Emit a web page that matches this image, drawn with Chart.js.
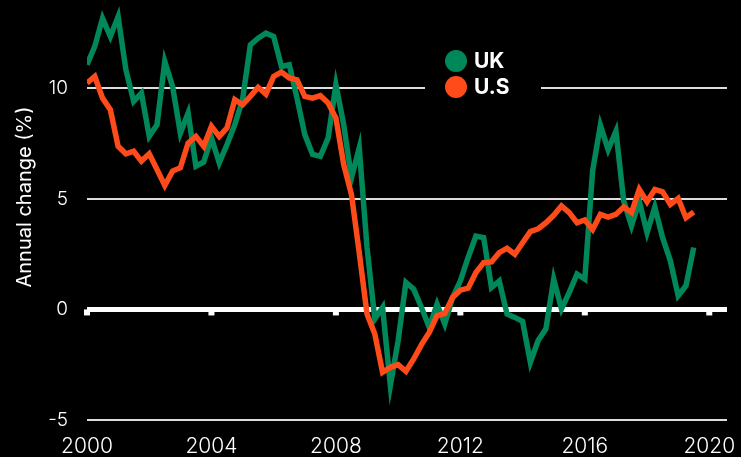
<!DOCTYPE html>
<html lang="en">
<head>
  <meta charset="UTF-8">
  <title>Annual change UK vs U.S</title>
  <script src="https://cdn.jsdelivr.net/npm/chart.js"></script>
  <style>
    * { margin: 0; padding: 0; box-sizing: border-box; }
    body { background: #000; width: 741px; height: 457px; overflow: hidden; }
    canvas { display: block; }
  </style>
</head>
<body>
  <canvas id="chart" width="741" height="457"></canvas>

  <script>
    // quarterly values, starting 2000 Q1
    const startYear = 2000;
    const ukValues = [
      11.07, 11.9, 13.17, 12.35, 13.25, 10.84, 9.41, 9.79, 7.83, 8.36, 11.22, 10.09,
      7.98, 8.89, 6.48, 6.67, 7.76, 6.63, 7.46, 8.36, 9.49, 11.97, 12.27, 12.5,
      12.35, 10.99, 11.07, 9.56, 7.91, 7.01, 6.93, 7.76, 10.17, 8.36, 5.95, 7.31,
      2.8, -0.43, 0.09, -3.44, -1.41, 1.22, 0.92, 0.09, -0.81, 0.24, -0.66, 0.54,
      1.29, 2.35, 3.32, 3.25, 0.99, 1.29, -0.21, -0.36, -0.54, -2.39, -1.41, -0.88,
      1.37, 0.02, 0.77, 1.6, 1.37, 6.26, 8.33, 7.23, 8.06, 4.9, 3.78, 4.9,
      3.47, 4.63, 3.25, 2.2, 0.62, 1.07, 2.8
    ];
    const usValues = [
      10.24, 10.54, 9.56, 9.04, 7.38, 7.04, 7.16, 6.71, 7.04, 6.33, 5.61, 6.26,
      6.41, 7.53, 7.83, 7.38, 8.29, 7.83, 8.21, 9.49, 9.26, 9.64, 10.05, 9.74,
      10.54, 10.74, 10.47, 10.39, 9.64, 9.56, 9.67, 9.34, 8.66, 6.56, 5.2, 2.57,
      -0.21, -1.11, -2.84, -2.62, -2.5, -2.8, -2.24, -1.59, -1.04, -0.28, -0.18, 0.54,
      0.87, 0.96, 1.67, 2.12, 2.15, 2.57, 2.77, 2.5, 3.02, 3.52, 3.65, 3.92,
      4.26, 4.68, 4.38, 3.92, 4.05, 3.62, 4.3, 4.18, 4.3, 4.63, 4.38, 5.43,
      4.87, 5.43, 5.32, 4.75, 5.02, 4.15, 4.41
    ];
    const xTicks = [2000, 2004, 2008, 2012, 2016, 2020];
    const yTicks = [-5, 0, 5, 10];
    const seriesNames = ['UK', 'U.S'];

    const green = '#00885A';
    const orange = '#FF4B19';
    const white = '#ffffff';
    const font = 'Inter, "Noto Sans", sans-serif';

    const toPoints = vals => vals.map((v, i) => ({ x: startYear + i / 4, y: v }));

    // small white squares hanging under the zero line at each year tick
    const zeroTicks = {
      id: 'zeroTicks',
      beforeDatasetsDraw(chart) {
        const { ctx, scales: { x, y } } = chart;
        const y0 = y.getPixelForValue(0);
        ctx.save();
        ctx.fillStyle = white;
        xTicks.forEach(v => {
          const px = x.getPixelForValue(v);
          ctx.fillRect(px - 3, y0, 6, 6);
        });
        ctx.restore();
      }
    };

    const sideTitle = {
      id: 'sideTitle',
      afterDraw(chart) {
        const { ctx } = chart;
        ctx.save();
        ctx.translate(25, 197);
        ctx.rotate(-Math.PI / 2);
        ctx.fillStyle = white;
        ctx.font = '20px ' + font;
        ctx.textAlign = 'center';
        ctx.textBaseline = 'middle';
        ctx.fillText('Annual change (%)', 0, 0);
        ctx.restore();
      }
    };

    const dotLegend = {
      id: 'dotLegend',
      afterDraw(chart) {
        const { ctx } = chart;
        const colors = [green, orange];
        const rows = [61, 87];
        ctx.save();
        ctx.fillStyle = '#000';
        ctx.fillRect(425, 45, 116, 56);
        ctx.font = 'bold 21px ' + font;
        ctx.textBaseline = 'middle';
        ctx.textAlign = 'left';
        seriesNames.forEach((name, i) => {
          ctx.fillStyle = colors[i];
          ctx.beginPath();
          ctx.arc(456, rows[i], 11, 0, Math.PI * 2);
          ctx.fill();
          ctx.fillStyle = white;
          ctx.fillText(name, 474, rows[i] + 1);
        });
        ctx.restore();
      }
    };

    const noPad = s => {
      s.paddingTop = 0;
      s.paddingBottom = 0;
      s.paddingLeft = 0;
      s.paddingRight = 0;
    };

    const chart = new Chart(document.getElementById('chart'), {
      type: 'line',
      data: {
        datasets: [
          {
            label: seriesNames[0],
            data: toPoints(ukValues),
            borderColor: green,
            borderWidth: 5.5,
            pointRadius: 0,
            tension: 0,
            order: 1
          },
          {
            label: seriesNames[1],
            data: toPoints(usValues),
            borderColor: orange,
            borderWidth: 5.5,
            pointRadius: 0,
            tension: 0,
            order: 0
          }
        ]
      },
      options: {
        responsive: false,
        animation: false,
        layout: { padding: { top: 0, right: 14, left: 0, bottom: 0 } },
        plugins: {
          legend: { display: false },
          title: { display: false },
          tooltip: { enabled: false }
        },
        scales: {
          x: {
            type: 'linear',
            min: 2000,
            max: 2020.57,
            afterBuildTicks: s => { s.ticks = xTicks.map(v => ({ value: v })); },
            afterFit: s => { s.height = 26; noPad(s); },
            grid: { display: false, drawTicks: false },
            border: { display: false },
            ticks: {
              color: white,
              font: { family: font, size: 21, weight: 300 },
              padding: 3,
              maxRotation: 0,
              callback: v => String(v)
            }
          },
          y: {
            min: -5.5,
            max: 14,
            afterBuildTicks: s => { s.ticks = yTicks.map(v => ({ value: v })); },
            afterFit: s => { s.width = 87; noPad(s); },
            grid: {
              drawTicks: false,
              color: ctx => ctx.tick && ctx.tick.value === 0 ? white : '#dddddd',
              lineWidth: ctx => ctx.tick && ctx.tick.value === 0 ? 5 : 2
            },
            border: { display: false },
            ticks: {
              color: white,
              font: { family: font, size: 19, weight: 300 },
              padding: 19
            }
          }
        }
      },
      plugins: [zeroTicks, sideTitle, dotLegend]
    });
  </script>
</body>
</html>
